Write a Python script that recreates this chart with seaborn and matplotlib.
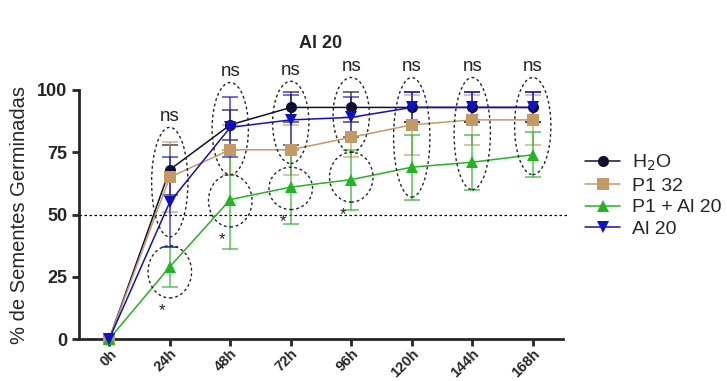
import numpy as np
import pandas as pd
import matplotlib
matplotlib.use("Agg")
import matplotlib.pyplot as plt
from matplotlib.patches import Ellipse
import seaborn as sns

# Germination data
times = ["0h", "24h", "48h", "72h", "96h", "120h", "144h", "168h"]
groups = ["H$_2$O", "P1 32", "P1 + Al 20", "Al 20"]
h2o = [0, 68, 86, 93, 93, 93, 93, 93]
h2o_sd = [0, 10, 6, 6, 6, 6, 6, 6]
p1_32 = [0, 65, 76, 76, 81, 86, 88, 88]
p1_32_sd = [0, 14, 10, 10, 8, 12, 10, 10]
p1_al20 = [0, 29, 56, 61, 64, 69, 71, 74]
p1_al20_sd = [0, 8, 20, 15, 12, 13, 11, 9]
al20 = [0, 55, 85, 88, 89, 93, 93, 93]
al20_sd = [0, 18, 12, 10, 8, 6, 6, 6]

colors = ["#101030", "#c49a64", "#22b422", "#1010c8"]
markers = ["o", "s", "^", "v"]

# significance annotations: (time index, centre, height, label)
ns_ellipses = [(1, 63, 44, "ns"), (2, 84.5, 37, "ns"), (3, 87, 33, "ns"),
               (4, 90, 30, "ns"), (5, 81, 48, "ns"), (6, 82.5, 45, "ns"),
               (7, 85.5, 39, "ns")]
star_ellipses = [(1, 27, 21, "*"), (2, 55.5, 21, "*"), (3, 60.5, 17, "*"),
                 (4, 65, 20, "*")]

series = [h2o, p1_32, p1_al20, al20]
sds = [h2o_sd, p1_32_sd, p1_al20_sd, al20_sd]
pos = np.arange(len(times))
df = pd.DataFrame({
    "t": np.tile(pos, len(groups)),
    "val": np.concatenate(series),
    "group": np.repeat(groups, len(times)),
})

sns.set_style("ticks")
plt.rcParams["font.family"] = ["Liberation Sans", "DejaVu Sans"]

fig = plt.figure(figsize=(7.27, 3.81), dpi=100)
ax = fig.add_axes([0.1087, 0.1102, 0.6657, 0.6536])

for g, y, sd, c in zip(groups, series, sds, colors):
    ax.errorbar(pos, y, yerr=sd, fmt="none", ecolor=c, elinewidth=1.2,
                capsize=6, capthick=1.2, alpha=0.7, clip_on=False, zorder=2)

sns.lineplot(data=df, x="t", y="val", hue="group", style="group",
             palette=dict(zip(groups, colors)),
             markers=dict(zip(groups, markers)), dashes=False,
             markersize=8, markeredgewidth=0, linewidth=1.1, ax=ax,
             zorder=3, clip_on=False)

ax.axhline(50, color="black", linestyle=(0, (2, 2)), linewidth=0.9,
           xmin=0, xmax=1.01, clip_on=False, zorder=1)

for i, yc, h, lab in ns_ellipses:
    ax.add_patch(Ellipse((i, yc), 0.6, h, fill=False, edgecolor="#222222",
                         linestyle=(0, (2, 2)), linewidth=1.0, zorder=4,
                         clip_on=False))
    ax.text(i, yc + h / 2 + 1, lab, ha="center", va="bottom", fontsize=13.5,
            color="#222222")
for i, yc, h, lab in star_ellipses:
    ax.add_patch(Ellipse((i, yc), 0.72, h, fill=False, edgecolor="#222222",
                         linestyle=(0, (2, 2)), linewidth=1.0, zorder=4,
                         clip_on=False))
    ax.text(i - 0.13, yc - h / 2 - 2, lab, ha="center", va="top",
            fontsize=12, color="#222222")

ax.set_xlim(-0.5, 7.5)
ax.set_ylim(0, 100)
ax.set_yticks([0, 25, 50, 75, 100])
ax.set_xticks(pos)
ax.set_xticklabels(times, rotation=45, ha="right", rotation_mode="anchor",
                   fontweight="bold", fontsize=10.5)
for lbl in ax.get_yticklabels():
    lbl.set_fontweight("bold")
    lbl.set_fontsize(13)
ax.tick_params(width=2, length=5, direction="out")
ax.tick_params(axis="x", pad=0.5)
for s in ["left", "bottom"]:
    ax.spines[s].set_linewidth(2)
sns.despine(ax=ax)
ax.set_xlabel("")
ax.set_ylabel("% de Sementes Germinadas", fontsize=14.5, labelpad=6)
ax.set_title("Al 20", fontsize=13, fontweight="bold", pad=30)

h, l = ax.get_legend_handles_labels()
ax.legend(h, l, loc="upper left", bbox_to_anchor=(1.01, 0.82), frameon=False,
          fontsize=14, handlelength=1.8, labelspacing=0.22, handletextpad=0.6)

fig.savefig("out.png", dpi=100)
